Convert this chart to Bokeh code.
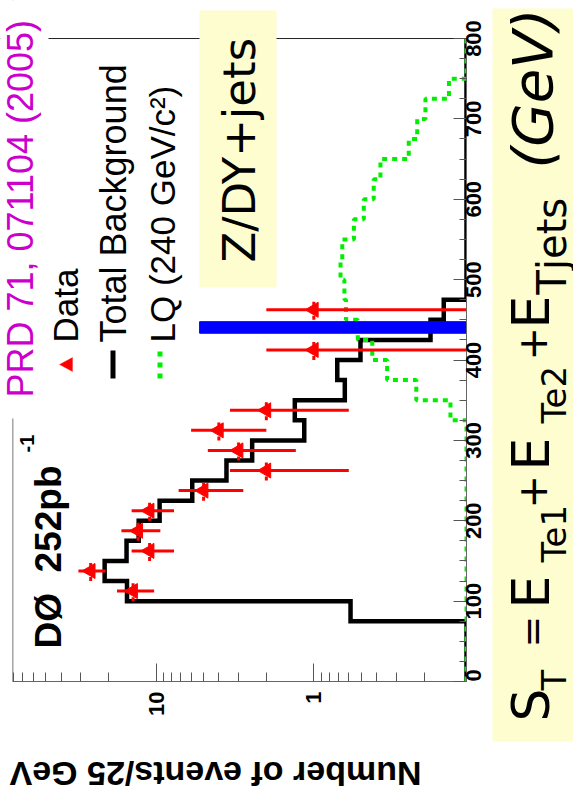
import math
from bokeh.plotting import figure
from bokeh.layouts import row, column
from bokeh.models import (Range1d, FixedTicker, Label, BoxAnnotation,
                          PolyAnnotation, Span, LinearAxis, CustomJSTickFormatter)
from bokeh.embed import file_html
from bokeh.resources import INLINE

# ---------------- data ----------------
ST_EDGES = [0, 25, 50, 75, 100, 125, 150, 175, 200, 225, 250, 275, 300, 325,
            350, 375, 400, 425, 450, 475, 500, 525, 550, 575, 600, 625, 650,
            675, 700, 725, 750, 775, 800]

BKG = [0, 0, 0, 0.585, 15.3, 21.2, 15.4, 12.9, 9.5, 5.9, 3.58, 2.46, 1.15,
       1.32, 0.636, 0.71, 0.506, 0.182, 0.15, 0, 0, 0, 0, 0, 0, 0, 0, 0, 0,
       0, 0, 0]

LQ = [0, 0, 0, 0, 0, 0, 0, 0, 0, 0, 0, 0, 0, 0.136, 0.224, 0.343, 0.426,
      0.526, 0.625, 0.64, 0.677, 0.66, 0.557, 0.482, 0.417, 0.378, 0.25,
      0.221, 0.196, 0.139, 0, 0]

DATA_ST = [112.5, 137.5, 162.5, 187.5, 212.5, 237.5, 262.5, 287.5, 312.5,
           337.5, 412.5, 462.5]
DATA_N = [14, 26, 11, 13, 11, 5, 2, 3, 4, 2, 1, 1]
DATA_ERR = [3.7, 5.1, 3.3, 3.6, 3.3, 2.2, 1.4, 1.7, 2.0, 1.4, 1.0, 1.0]
DATA_HALFBIN = 12.5

CUT_LO, CUT_HI, CUT_COUNT = 433.3, 447.7, 5.3

X_TICKS = [1, 10]
X_MINOR = [0.2, 0.3, 0.4, 0.5, 0.6, 0.7, 0.8, 0.9, 2, 3, 4, 5, 6, 7, 8, 9,
           20, 30, 40, 50, 60, 70, 80]
X_LABELS = {1: "1", 10: "10"}
ST_TICKS = [0, 100, 200, 300, 400, 500, 600, 700, 800]
ST_MINOR = [25, 50, 75, 125, 150, 175, 225, 250, 275, 325, 350, 375, 425, 450,
            475, 525, 550, 575, 625, 650, 675, 725, 750, 775]

X_AXIS_MAX, X_AXIS_MIN = 81.0, 0.1076     # drawn axis extent (events)
ST_AXIS_MAX = 800
X_VIEW = (97.0, 0.1076)                     # view range incl. margin for texts
ST_VIEW = (0, 847.3)

# ---------------- main figure ----------------
MW, MH = 492, 740
FB = 681   # frame bottom (canvas px)

p = figure(width=MW, height=MH, x_axis_type="log", y_axis_location="right",
           x_range=Range1d(*X_VIEW), y_range=Range1d(*ST_VIEW),
           output_backend="svg", toolbar_location=None,
           min_border_left=0, min_border_right=MW - 466, min_border_top=0,
           min_border_bottom=MH - FB)
p.grid.visible = False
p.background_fill_color = "white"
p.border_fill_color = "white"
p.outline_line_color = None

TICK_COL = "#555555"
xa = p.xaxis[0]
xa.ticker = FixedTicker(ticks=X_TICKS, minor_ticks=X_MINOR)
xa.major_label_overrides = X_LABELS
xa.major_label_orientation = math.pi / 2
xa.major_tick_in, xa.major_tick_out = 18, 0
xa.minor_tick_in, xa.minor_tick_out = 9, 0
xa.major_label_standoff = 10
xa.bounds = (X_AXIS_MIN, X_AXIS_MAX)
xa.axis_line_color = "#666666"
xa.major_tick_line_color = TICK_COL
xa.minor_tick_line_color = TICK_COL
xa.major_label_text_font = "Liberation Sans"
xa.major_label_text_font_style = "bold"
xa.major_label_text_font_size = "22px"
xa.major_label_text_color = "black"

# S_T axis: line + short ticks every 25 GeV
ya = p.yaxis[0]
ya.ticker = FixedTicker(ticks=[], minor_ticks=ST_MINOR)
ya.minor_tick_in, ya.minor_tick_out = 7, 0
ya.major_tick_in, ya.major_tick_out = 0, 0
ya.major_label_standoff = 0
ya.bounds = (0, ST_AXIS_MAX)
ya.axis_line_color = "#666666"
ya.minor_tick_line_color = TICK_COL

# S_T labels (centred on the ticks) + long ticks every 100 GeV
LBL_FONT = 22
half = 1.5 * 0.556 * LBL_FONT / (643 / 800)
lbl_ticks = [ST_TICKS[0]] + [t - half for t in ST_TICKS[1:]]
ya2 = LinearAxis(ticker=FixedTicker(ticks=lbl_ticks, minor_ticks=ST_TICKS),
                 formatter=CustomJSTickFormatter(code="return String(Math.round(tick/100)*100)"),
                 major_label_orientation=math.pi / 2, axis_line_color=None,
                 major_tick_line_color=None, minor_tick_line_color=TICK_COL,
                 minor_tick_in=13, minor_tick_out=0,
                 major_tick_in=0, major_tick_out=0,
                 major_label_standoff=7, major_label_text_font="Liberation Sans",
                 major_label_text_font_style="bold", major_label_text_color="black",
                 major_label_text_font_size=f"{LBL_FONT}px")
ya2.bounds = (0, ST_AXIS_MAX)
p.add_layout(ya2, "right")

# frame top / left lines
p.add_layout(Span(location=ST_AXIS_MAX, dimension="width", line_color="#222222",
                  line_width=1, level="underlay"))
p.add_layout(Span(location=X_AXIS_MAX, dimension="height", line_color="#777777",
                  line_width=1, level="underlay"))


def steps(vals):
    xs, ys = [], []
    for i, v in enumerate(vals):
        c = max(v, X_AXIS_MIN)
        xs += [c, c]
        ys += [ST_EDGES[i], ST_EDGES[i + 1]]
    return xs, ys


bx, by = steps(BKG)
p.line(bx, by, line_color="black", line_width=4.5, line_join="miter")
lx, ly = steps(LQ)
p.line(lx, ly, line_color="#00ee00", line_width=4, line_dash="5 5")

lo = [max(n - e, X_AXIS_MIN / 2) for n, e in zip(DATA_N, DATA_ERR)]
hi = [n + e for n, e in zip(DATA_N, DATA_ERR)]
p.segment(x0=lo, x1=hi, y0=DATA_ST, y1=DATA_ST, line_color="red", line_width=3)
p.segment(x0=DATA_N, x1=DATA_N, y0=[s - DATA_HALFBIN for s in DATA_ST],
          y1=[s + DATA_HALFBIN for s in DATA_ST], line_color="red",
          line_width=3, line_dash="4 3")
p.scatter(DATA_N, DATA_ST, marker="triangle", angle=math.pi / 2, size=15,
          fill_color="red", line_color="red")

p.quad(left=[CUT_COUNT], right=[X_AXIS_MIN / 2], bottom=[CUT_LO], top=[CUT_HI],
       fill_color="blue", line_color="blue")


# ---------------- annotation helpers (frame-relative screen coords) ----------------
def add_box(fig, fb, x0, y0, x1, y1, color, xoff=0):
    fig.add_layout(BoxAnnotation(left=x0 - xoff, right=x1 - xoff, top=fb - y0, bottom=fb - y1,
                                 left_units="screen", right_units="screen",
                                 top_units="screen", bottom_units="screen",
                                 fill_color=color, fill_alpha=1.0, line_alpha=0,
                                 level="overlay"))


def add_label(fig, fb, bx_, y, text, size, color="black", font="Liberation Sans",
              style="normal", angle=math.pi / 2, xoff=0):
    # bx_ = baseline x (canvas px) for text rotated +90deg, y = start (bottom)
    fig.add_layout(Label(x=bx_ - 0.35 * size - xoff, y=fb - y, x_units="screen",
                         y_units="screen", text=text, angle=angle, text_font=font,
                         text_font_size=f"{size}px", text_font_style=style,
                         text_color=color, text_baseline="middle",
                         text_align="left", level="overlay"))


YEL = "#fdfdcf"
add_box(p, FB, 0, 0, 48, 418, "white")
add_box(p, FB, 199, 10, 276, 287, YEL)

add_label(p, FB, 33, 397, "PRD 71, 071104 (2005)", 36, color="#cc00cc")
add_label(p, FB, 77, 342, "Data", 35)
add_label(p, FB, 126, 342, "Total Background", 36)
add_label(p, FB, 174, 342, "LQ (240 GeV/c\u00b2)", 35)

p.add_layout(PolyAnnotation(xs=[59, 72, 72], ys=[FB - 364, FB - 357, FB - 371],
                            xs_units="screen", ys_units="screen", fill_color="red",
                            fill_alpha=1, line_color="red", level="overlay"))
add_box(p, FB, 110, 350, 115, 378, "black")
for y0 in (351, 362, 373):
    add_box(p, FB, 157, y0, 162, y0 + 5, "#00ee00")

add_label(p, FB, 61, 648, "D\u00d8\u00a0\u00a0252pb", 37, style="bold")
add_label(p, FB, 33, 452, "-1", 20, style="bold")
add_label(p, FB, 255, 262, "Z/DY+jets", 45, font="DejaVu Sans")

# ---------------- bottom title strip ----------------
TW, TH = MW, 809 - MH
t = figure(width=TW, height=TH, output_backend="svg", toolbar_location=None,
           x_axis_location=None, y_axis_location=None, min_border=0,
           x_range=Range1d(0, 1), y_range=Range1d(0, 1))
t.grid.visible = False
t.outline_line_color = None
t.background_fill_color = "white"
t.border_fill_color = "white"
t.add_layout(Label(x=421, y=809 - (762 + 0.35 * 34), x_units="screen", y_units="screen",
                   text="Number of events/25 GeV", angle=math.pi,
                   text_font="Liberation Sans", text_font_size="34px",
                   text_font_style="bold", text_color="black",
                   text_baseline="middle", text_align="left"))

# ---------------- right formula strip ----------------
RW, RH = 573 - MW, 809
RTOP, RBOT = 8, 741
r = figure(width=RW, height=RH, output_backend="svg", toolbar_location=None,
           x_axis_location=None, y_axis_location=None,
           min_border_left=0, min_border_right=0, min_border_top=RTOP,
           min_border_bottom=RH - RBOT, x_range=Range1d(0, 1), y_range=Range1d(0, 1))
r.grid.visible = False
r.outline_line_color = None
r.background_fill_color = YEL
r.border_fill_color = "white"

FORMULA = [("S", 52, 721, 549, "normal"), ("T", 34, 690, 565, "normal"),
           ("=", 38, 647, 545, "normal"), ("E", 52, 608, 549, "normal"),
           ("Te1", 34, 562, 565, "normal"), ("+", 40, 508, 545, "normal"),
           ("E", 52, 470, 549, "normal"), ("Te2", 34, 423, 565, "normal"),
           ("+", 40, 360, 545, "normal"), ("E", 52, 328, 549, "normal"),
           ("Tjets", 40, 294, 565, "normal"), ("(GeV)", 56, 168, 552, "italic")]
for txt, s, y0, x0, st in FORMULA:
    add_label(r, RBOT, x0, y0, txt, s, font="DejaVu Sans", style=st, xoff=MW)

layout = row(column(p, t, spacing=0), r, spacing=0)
open("out.html", "w").write(file_html(layout, INLINE))
